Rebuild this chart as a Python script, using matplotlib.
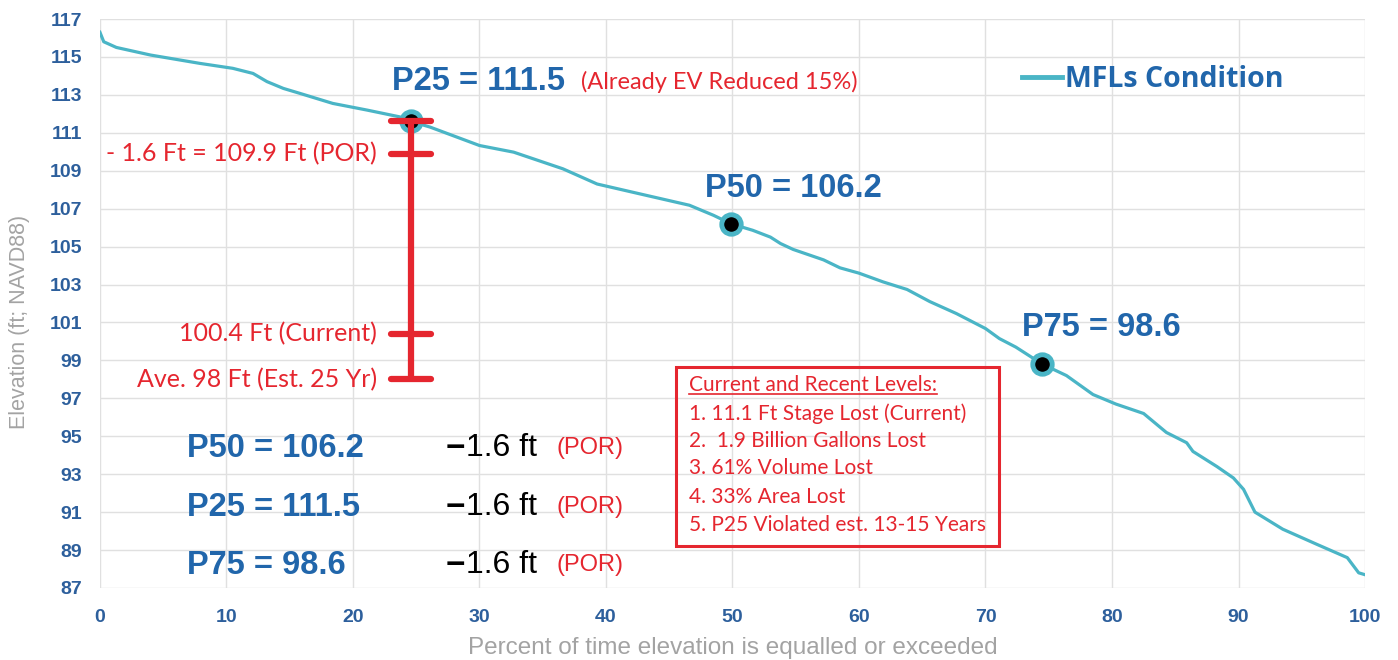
import numpy as np
import matplotlib
matplotlib.use("Agg")
import matplotlib.pyplot as plt
from matplotlib.patches import Rectangle

# ---------------------------------------------------------
# DATA
# ---------------------------------------------------------
pct = [0, 0.3, 1.3, 4.0, 7.9, 10.5, 12.1, 13.2, 14.5, 15.8, 18.4, 21.1, 23.7,
       24.6, 26.1, 30.0, 32.7, 36.6, 39.3, 43.2, 46.6, 48.5, 49.9, 51.6, 53.0,
       53.8, 54.8, 57.2, 58.5, 60.0, 61.9, 63.8, 65.6, 67.7, 70.0, 71.1, 72.4,
       74.5, 76.4, 78.5, 80.3, 82.5, 84.3, 85.9, 86.4, 88.3, 89.6, 90.4, 91.3,
       93.5, 96.2, 98.6, 99.5, 100]
elev = [116.3, 115.8, 115.5, 115.1, 114.66, 114.4, 114.13, 113.7, 113.34, 113.08,
        112.55, 112.2, 111.84, 111.6, 111.3, 110.33, 109.98, 109.1, 108.3, 107.7,
        107.18, 106.65, 106.2, 105.86, 105.5, 105.16, 104.85, 104.3, 103.88, 103.6,
        103.14, 102.74, 102.1, 101.47, 100.68, 100.15, 99.7, 98.8, 98.2, 97.2,
        96.7, 96.2, 95.2, 94.66, 94.2, 93.4, 92.8, 92.2, 91.0, 90.1, 89.3, 88.6,
        87.8, 87.7]

p_names = ["P25", "P50", "P75"]
p_pct = [24.6, 49.9, 74.5]
p_elev = [111.6, 106.2, 98.8]
p_labels = ["P25 = 111.5", "P50 = 106.2", "P75 = 98.6"]

# red "range" bar at P25
bar_levels = [111.6, 109.9, 100.4, 98.0]
bar_labels = ["", "- 1.6 Ft = 109.9 Ft (POR)", "100.4 Ft (Current)", "Ave. 98 Ft (Est. 25 Yr)"]

summary_left = ["P50 = 106.2", "P25 = 111.5", "P75 = 98.6"]
summary_y = [94.36, 91.25, 88.2]

box_title = "Current and Recent Levels:"
box_lines = ["1. 11.1 Ft Stage Lost (Current)",
             "2.  1.9 Billion Gallons Lost",
             "3. 61% Volume Lost",
             "4. 33% Area Lost",
             "5. P25 Violated est. 13-15 Years"]

# ---------------------------------------------------------
# STYLE
# ---------------------------------------------------------
TEAL = "#4ab5c6"
BLUE = "#2166ab"
TICKBLUE = "#2d5f9c"
RED = "#e5262f"
GRAY = "#a3a3a3"
ARIAL = ["Liberation Sans", "DejaVu Sans"]
CALIBRI = ["Lato", "DejaVu Sans"]

fig = plt.figure(figsize=(13.98, 6.6), dpi=100)
ax = fig.add_axes([0.0715, 0.1091, 0.9049, 0.8621])

ax.plot(pct, elev, color=TEAL, linewidth=2.3, label="MFLs Condition", zorder=3)
ax.plot(p_pct, p_elev, linestyle="none", marker="o", markersize=14,
        markerfacecolor="black", markeredgecolor=TEAL, markeredgewidth=3.5, zorder=5)

ax.set_xlim(0, 100)
ax.set_ylim(87, 117)
ax.set_xticks(np.arange(0, 101, 10))
ax.set_yticks(np.arange(87, 118, 2))
ax.grid(True, color="#e0e0e0", linewidth=1.0)
ax.set_axisbelow(True)
for s in ax.spines.values():
    s.set_visible(False)
ax.tick_params(length=0, labelsize=14, labelcolor=TICKBLUE)
ax.tick_params(axis="y", pad=13)
ax.tick_params(axis="x", pad=15)
for lab in ax.get_xticklabels() + ax.get_yticklabels():
    lab.set_fontweight("bold")
    lab.set_family(ARIAL)

ax.set_ylabel("Elevation (ft; NAVD88)", color=GRAY, fontsize=15.5, family=ARIAL)
ax.yaxis.set_label_coords(-0.055, 0.467)
ax.set_xlabel("Percent of time elevation is equalled or exceeded", color=GRAY,
              fontsize=17.5, family=ARIAL, labelpad=8)

# legend
leg = ax.legend(loc="center left", bbox_to_anchor=(0.729, 0.893), frameon=False,
                handlelength=1.4, handletextpad=0.1, borderaxespad=0, borderpad=0,
                prop={"family": ["Open Sans", "DejaVu Sans"], "weight": "bold", "size": 20.5})
for t in leg.get_texts():
    t.set_color(BLUE)
for ln in leg.get_lines():
    ln.set_linewidth(3.5)

# P labels near the markers
p_text_pos = [(23.1, 113.7), (47.8, 108.07), (72.9, 100.75)]
for (tx, ty), lab in zip(p_text_pos, p_labels):
    ax.text(tx, ty, lab, color=BLUE, fontsize=23.5, fontweight="bold", family=ARIAL,
            va="center", ha="left", zorder=6)
ax.text(38.0, 113.7, "(Already EV Reduced 15%)", color=RED, fontsize=17,
        family=CALIBRI, va="center", ha="left")

# red range bar
bx = p_pct[0]
ax.plot([bx, bx], [bar_levels[0], bar_levels[-1]], color=RED, linewidth=4.5,
        solid_capstyle="butt", zorder=6)
for lv, lab in zip(bar_levels, bar_labels):
    ax.plot([bx - 1.6, bx + 1.6], [lv, lv], color=RED, linewidth=4.5,
            solid_capstyle="round", zorder=6)
    if lab:
        ax.text(21.9, lv, lab, color=RED, fontsize=18, family=CALIBRI,
                ha="right", va="center")

# summary lines at the bottom left
for lab, y in zip(summary_left, summary_y):
    ax.text(6.9, y, lab, color=BLUE, fontsize=23.5, fontweight="bold", family=ARIAL,
            ha="left", va="center")
    ax.text(27.35, y, "\u2212", color="black", fontsize=24, fontweight="bold",
            family=ARIAL, ha="left", va="center")
    ax.text(28.9, y, "1.6 ft", color="black", fontsize=23, family=ARIAL,
            ha="left", va="center")
    ax.text(36.05, y, "(POR)", color=RED, fontsize=17, family=ARIAL,
            ha="left", va="center")

# red summary box
ax.add_patch(Rectangle((45.5, 89.24), 25.6, 9.4, fill=False, edgecolor=RED,
                       linewidth=2.2, zorder=4))
line_y = [97.69, 96.21, 94.73, 93.31, 91.78, 90.30]
title_txt = ax.text(46.6, line_y[0], box_title, color=RED, fontsize=15,
                    family=CALIBRI, ha="left", va="center")
for lab, y in zip(box_lines, line_y[1:]):
    ax.text(46.6, y, lab, color=RED, fontsize=15, family=CALIBRI,
            ha="left", va="center")

# underline the box title
fig.canvas.draw()
bb = title_txt.get_window_extent().transformed(ax.transData.inverted())
ax.plot([bb.x0, bb.x1], [bb.y0 + 0.05, bb.y0 + 0.05], color=RED, linewidth=1.2)

fig.savefig("out.png", dpi=100)
